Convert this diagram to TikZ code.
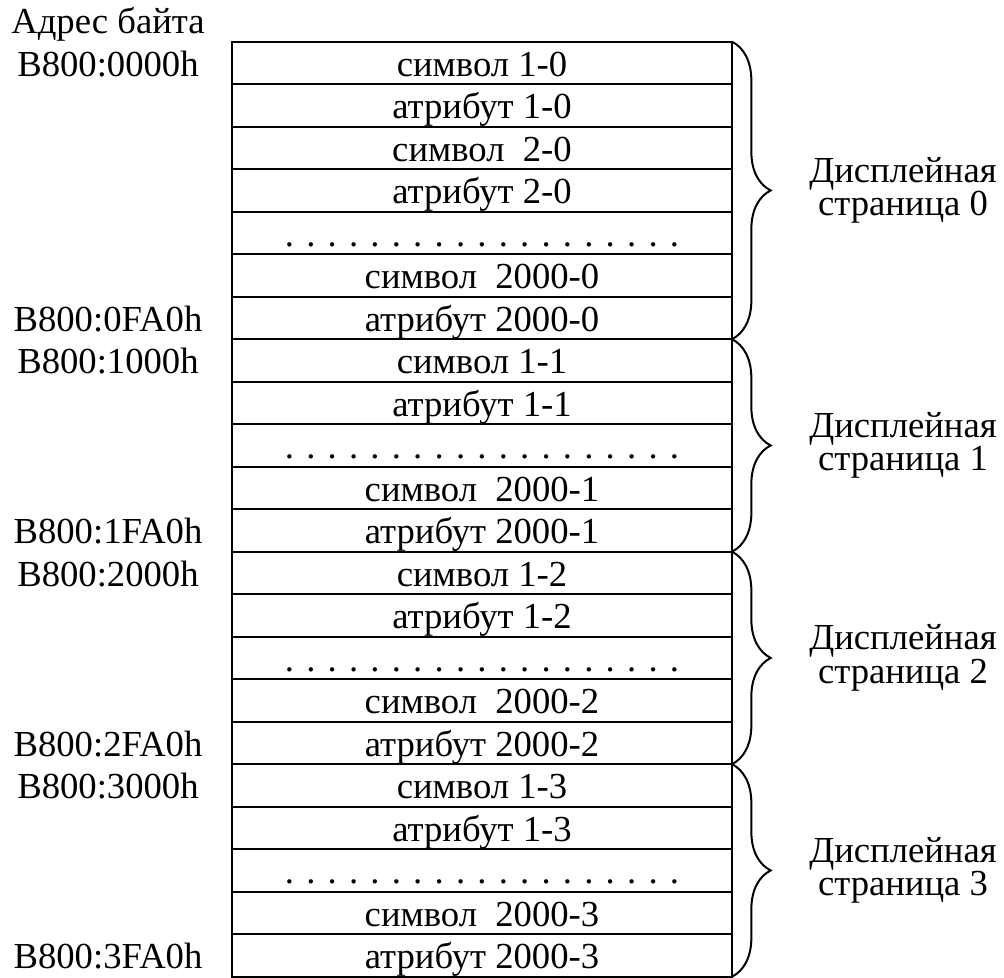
\documentclass[tikz,border=0pt]{standalone}
\usepackage{fontspec}
\setmainfont{Liberation Serif}
\usetikzlibrary{calc,decorations.pathreplacing}
\newcommand\dotrow{. . . . . . . . . . . . . . . . . . .}
\begin{document}
\begin{tikzpicture}[x=0.75pt,y=-0.75pt,
  font=\fontsize{27.5}{21}\selectfont,
  cell/.style={draw,line width=1.5pt,minimum width=375pt,minimum height=31.875pt,
    inner sep=0pt,outer sep=0pt,text height=19.875pt,text depth=0pt,anchor=north},
  addr/.style={anchor=base,inner sep=0pt},
  pagelabel/.style={align=center,inner sep=0pt,anchor=center},
  pagebrace/.style={decorate,decoration={brace,amplitude=29pt},line width=1.5pt}]
\useasboundingbox (0,0) rectangle (1004,978);

% memory cells, one per byte group
\foreach \t [count=\i from 0] in {
  символ 1-0, атрибут 1-0, символ~ 2-0, атрибут 2-0, \dotrow, символ~ 2000-0, атрибут 2000-0,
  символ 1-1, атрибут 1-1, \dotrow, символ~ 2000-1, атрибут 2000-1,
  символ 1-2, атрибут 1-2, \dotrow, символ~ 2000-2, атрибут 2000-2,
  символ 1-3, атрибут 1-3, \dotrow, символ~ 2000-3, атрибут 2000-3}
  \node[cell] (r\i) at (482,{41.7+42.5*\i}) {\t};

% byte addresses
\node[addr] (hdr) at ($(r0.base)+(-374,-42.5)$) {Адрес байта};
\node[addr] (a0)  at ($(r0.base)+(-374,0)$)  {B800:0000h};
\node[addr] (a1)  at ($(r6.base)+(-374,0)$)  {B800:0FA0h};
\node[addr] (a2)  at ($(r7.base)+(-374,0)$)  {B800:1000h};
\node[addr] (a3)  at ($(r11.base)+(-374,0)$) {B800:1FA0h};
\node[addr] (a4)  at ($(r12.base)+(-374,0)$) {B800:2000h};
\node[addr] (a5)  at ($(r16.base)+(-374,0)$) {B800:2FA0h};
\node[addr] (a6)  at ($(r17.base)+(-374,0)$) {B800:3000h};
\node[addr] (a7)  at ($(r21.base)+(-374,0)$) {B800:3FA0h};

% display pages
\foreach \p/\a/\b in {0/0/6, 1/7/11, 2/12/16, 3/17/21}{
  \draw[pagebrace] (r\a.north east) -- (r\b.south east);
  \node[pagelabel] (p\p) at ($(r\a.north east)!.5!(r\b.south east)+(171,0)$)
    {Дисплейная\\страница \p};
}
\end{tikzpicture}
\end{document}
